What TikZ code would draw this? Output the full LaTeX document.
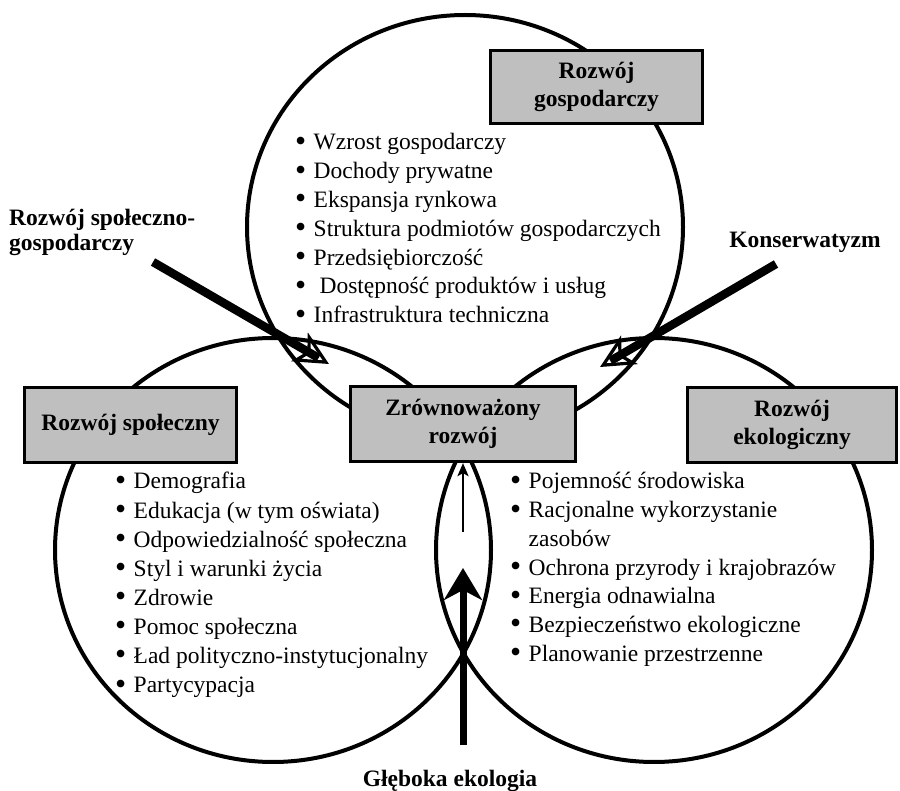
\documentclass[tikz,border=0pt]{standalone}
\usepackage{fontspec}
\setmainfont{Liberation Serif}
\usetikzlibrary{arrows.meta,calc}
\newcommand\bulletbox{\makebox[18.5pt][l]{\smash{\raisebox{-1.3pt}{\scalebox{1.35}{\textbullet}}}}}
\begin{document}
\begin{tikzpicture}[x=1pt,y=-1pt,
  circ/.style={line width=4pt},
  gbox/.style={draw, line width=3.2pt, fill=black!25, inner sep=0pt,
    font=\bfseries\fontsize{23.5}{27.5}\selectfont, align=center},
  lab/.style={font=\bfseries\fontsize{23.5}{25}\selectfont, inner sep=0pt},
  item/.style={font=\fontsize{23.5}{28}\selectfont, inner sep=0pt, anchor=base west},
  bigshaft/.style={line width=8.5pt},
  openhead/.style={line width=3.2pt, -{Stealth[open, length=34pt, width=33pt, inset=9pt]}},
  uparrow/.style={line width=7pt, -{Stealth[length=32pt, width=38pt, inset=10pt]}},
  thinarrow/.style={line width=2.8pt, -{Stealth[length=13pt, width=11pt, inset=3pt]}}
]
\useasboundingbox (0,0) rectangle (900,791);

% circles (drawn directly)
\coordinate (ctop) at (465,227);
\coordinate (cleft) at (273,550);
\coordinate (cright) at (654,550);
\draw[circ] (ctop) ellipse [x radius=218pt, y radius=212pt];
\draw[circ] (cleft) ellipse [x radius=218pt, y radius=212pt];
\draw[circ] (cright) ellipse [x radius=218pt, y radius=212pt];

% boxes
\node[gbox, minimum width=212pt, minimum height=73pt] (gosp) at (596.5,87) {Rozwój\\gospodarczy};
\node[gbox, minimum width=212pt, minimum height=75pt] (spol) at (130.5,425) {Rozwój społeczny};
\node[gbox, minimum width=225pt, minimum height=75pt] (zr) at (463,424) {Zrównoważony\\rozwój};
\node[gbox, minimum width=209pt, minimum height=75pt] (eko) at (792,425) {Rozwój\\ekologiczny};

% top list
\node[item] (t1) at (295,150) {\bulletbox Wzrost gospodarczy};
\node[item] (t2) at (295,178.8) {\bulletbox Dochody prywatne};
\node[item] (t3) at (295,207.6) {\bulletbox Ekspansja rynkowa};
\node[item] (t4) at (295,236.4) {\bulletbox Struktura podmiotów gospodarczych};
\node[item] (t5) at (295,265.2) {\bulletbox Przedsiębiorczość};
\node[item] (t6) at (295,294) {\bulletbox\ Dostępność produktów i usług};
\node[item] (t7) at (295,322.8) {\bulletbox Infrastruktura techniczna};

% left list
\node[item] (l1) at (115,489) {\bulletbox Demografia};
\node[item] (l2) at (115,518.1) {\bulletbox Edukacja (w tym oświata)};
\node[item] (l3) at (115,547.2) {\bulletbox Odpowiedzialność społeczna};
\node[item] (l4) at (115,576.3) {\bulletbox Styl i warunki życia};
\node[item] (l5) at (115,605.4) {\bulletbox Zdrowie};
\node[item] (l6) at (115,634.5) {\bulletbox Pomoc społeczna};
\node[item] (l7) at (115,663.6) {\bulletbox Ład polityczno-instytucjonalny};
\node[item] (l8) at (115,692.7) {\bulletbox Partycypacja};

% right list
\node[item] (r1) at (510,489) {\bulletbox Pojemność środowiska};
\node[item] (r2) at (510,517.7) {\bulletbox Racjonalne wykorzystanie};
\node[item] (r2b) at (528.5,546.4) {zasobów};
\node[item] (r3) at (510,575.1) {\bulletbox Ochrona przyrody i krajobrazów};
\node[item] (r4) at (510,603.8) {\bulletbox Energia odnawialna};
\node[item] (r5) at (510,632.5) {\bulletbox Bezpieczeństwo ekologiczne};
\node[item] (r6) at (510,661.2) {\bulletbox Planowanie przestrzenne};

% outer labels
\node[lab, anchor=west, align=left] (sg) at (9,232) {Rozwój społeczno-\\gospodarczy};
\node[lab, anchor=base] (kon) at (805,248) {Konserwatyzm};
\node[lab, anchor=base] (gl) at (450,786) {Głęboka ekologia};

% arrows
\coordinate (a1s) at (153,262);
\coordinate (a1t) at (329,364);
\draw[bigshaft, shorten >=12pt] (a1s) -- (a1t);
\draw[openhead] ($(a1t)!40pt!(a1s)$) -- (a1t);

\coordinate (a2s) at (776,264);
\coordinate (a2t) at (600,367);
\draw[bigshaft, shorten >=12pt] (a2s) -- (a2t);
\draw[openhead] ($(a2t)!40pt!(a2s)$) -- (a2t);

\coordinate (a3s) at (463,745);
\coordinate (a3t) at (463,568);
\draw[uparrow] (a3s) -- (a3t);

\coordinate (a4s) at (463,532);
\draw[thinarrow] (a4s) -- (zr.south);
\end{tikzpicture}
\end{document}
